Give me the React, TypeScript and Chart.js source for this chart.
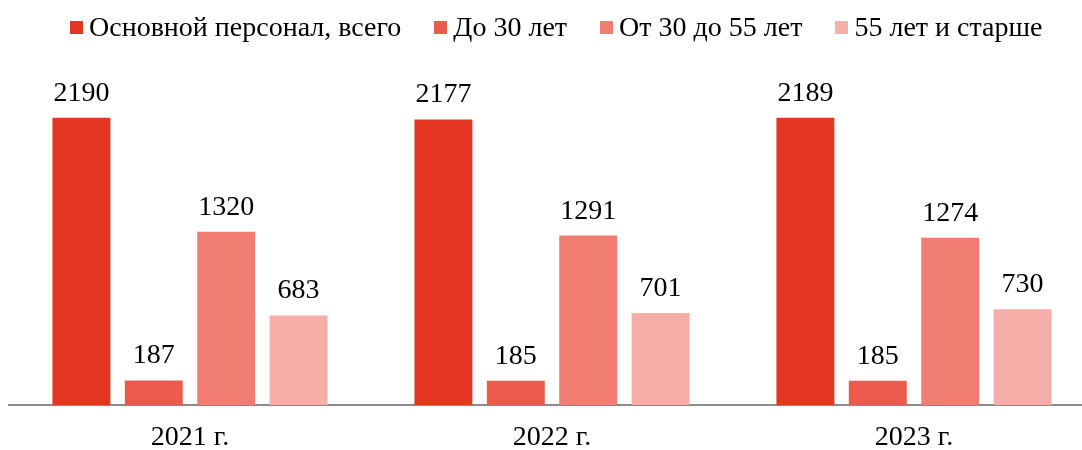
import React, { useEffect, useRef } from "react";
import { Chart, registerables } from "chart.js";

Chart.register(...registerables);

const categories = ["2021 г.", "2022 г.", "2023 г."];
const seriesNames = ["Основной персонал, всего", "До 30 лет", "От 30 до 55 лет", "55 лет и старше"];
const totalValues = [2190, 2177, 2189];
const under30Values = [187, 185, 185];
const from30to55Values = [1320, 1291, 1274];
const over55Values = [683, 701, 730];
const seriesColors = ["#E53624", "#EB5B4D", "#F07C72", "#F5AFA8"];

const FONT = "'Liberation Serif', 'Times New Roman', serif";
const FS = 28;

export default function App() {
  const ref = useRef<HTMLCanvasElement | null>(null);

  useEffect(() => {
    if (!ref.current) return;
    const values = [totalValues, under30Values, from30to55Values, over55Values];
    const labelPlugin = {
      id: "valueLabels",
      afterDatasetsDraw(chart: any) {
        const ctx = chart.ctx;
        ctx.save();
        ctx.font = `${FS}px ${FONT}`;
        ctx.fillStyle = "#000";
        ctx.textAlign = "center";
        ctx.textBaseline = "alphabetic";
        chart.data.datasets.forEach((ds: any, i: number) => {
          const meta = chart.getDatasetMeta(i);
          meta.data.forEach((bar: any, j: number) => {
            ctx.fillText(String(ds.data[j]), bar.x, bar.y - 17);
          });
        });
        ctx.restore();
      },
    };
    const chart = new Chart(ref.current, {
      type: "bar",
      data: {
        labels: categories,
        datasets: seriesNames.map((name, i) => ({
          label: name,
          data: values[i],
          backgroundColor: seriesColors[i],
          borderWidth: 0,
          barPercentage: 0.8,
          categoryPercentage: 0.8,
        })),
      },
      options: {
        responsive: false,
        animation: false,
        layout: { padding: { top: 77, left: 9, right: 5, bottom: 0 } },
        plugins: { legend: { display: false }, tooltip: { enabled: false } },
        scales: {
          x: {
            grid: { display: false, drawTicks: false },
            border: { display: true, color: "#8a8a8a", width: 2 },
            ticks: { color: "#000", font: { family: FONT, size: FS, lineHeight: 1 }, padding: 19 },
            afterFit: (scale: any) => {
              scale.height = 45;
            },
          },
          y: { display: false, min: 0, max: 2500 },
        },
      },
      plugins: [labelPlugin],
    });
    return () => chart.destroy();
  }, []);

  return (
    <div style={{ position: "fixed", left: 0, top: 0, width: 1082, height: 450, background: "#fff", overflow: "hidden" }}>
      <canvas ref={ref} width={1100} height={450} style={{ position: "absolute", left: 0, top: 0 }} />
      <div
        style={{
          position: "absolute",
          top: 12,
          left: 70,
          display: "flex",
          fontFamily: FONT,
          fontSize: FS,
          lineHeight: "30px",
          color: "#000",
          whiteSpace: "nowrap",
        }}
      >
        {seriesNames.map((name, i) => (
          <div key={name} style={{ display: "flex", alignItems: "center", marginRight: i < 3 ? 33 : 0 }}>
            <span style={{ display: "inline-block", width: 13, height: 13, background: seriesColors[i], marginRight: 6 }} />
            <span>{name}</span>
          </div>
        ))}
      </div>
    </div>
  );
}
